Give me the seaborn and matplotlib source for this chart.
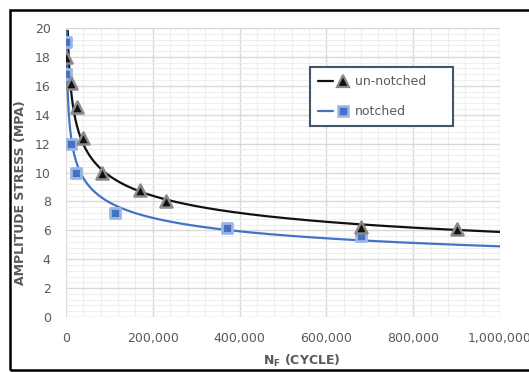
import numpy as np
import pandas as pd
import matplotlib
matplotlib.use("Agg")
import matplotlib.pyplot as plt
import seaborn as sns
from matplotlib.ticker import MultipleLocator, FuncFormatter
from matplotlib.lines import Line2D
from matplotlib.patches import Rectangle
from matplotlib.legend_handler import HandlerTuple

# Fatigue test results: cycles to failure vs. amplitude stress
unnotched_cycles = [500, 12000, 25000, 39000, 82000, 170000, 230000, 680000, 900000]
unnotched_stress = [18.0, 16.2, 14.5, 12.4, 10.0, 8.8, 8.0, 6.2, 6.1]
notched_cycles = [500, 500, 11000, 23000, 113000, 370000, 680000]
notched_stress = [19.0, 16.8, 12.0, 10.0, 7.2, 6.15, 5.6]

# Power-law trendlines  S = a * N^b
unnotched_trend = (123.0, -0.22)
notched_trend = (89.0, -0.21)

series_names = ["un-notched", "notched"]
x_ticks = [0, 200000, 400000, 600000, 800000, 1000000]
y_ticks = list(range(0, 21, 2))

BLACK = "#111111"
BLUE = "#4472C4"
TEXT = "#595959"
Y_MAX = 20

sns.set_theme(style="white")
plt.rcParams["font.family"] = ["DejaVu Sans"]

W, H = 529, 372
fig = plt.figure(figsize=(W / 100, H / 100), dpi=100)
ax = fig.add_axes([66 / W, 55 / H, 434 / W, 289 / H])

# trendlines, starting just inside the top of the plot area
for (a, b), color in [(unnotched_trend, BLACK), (notched_trend, BLUE)]:
    n_start = (0.99 * Y_MAX / a) ** (1 / b)
    n_fit = np.geomspace(n_start, 1_000_000, 600)
    trend = pd.DataFrame({"N": n_fit, "S": a * n_fit ** b})
    sns.lineplot(data=trend, x="N", y="S", color=color, lw=1.6, ax=ax,
                 estimator=None, sort=False, legend=False, zorder=3)

# measured points
un_df = pd.DataFrame({"N": unnotched_cycles, "S": unnotched_stress})
no_df = pd.DataFrame({"N": notched_cycles, "S": notched_stress})
sns.scatterplot(data=no_df, x="N", y="S", marker="s", s=50, color=BLUE,
                edgecolor="#9DB7E4", linewidth=2.0, ax=ax, zorder=4, legend=False)
sns.scatterplot(data=un_df, x="N", y="S", marker="^", s=75, color=BLACK,
                edgecolor="#8a8a8a", linewidth=1.8, ax=ax, zorder=5, legend=False)

ax.set_xlim(0, 1_000_000)
ax.set_ylim(0, Y_MAX)
ax.set_xticks(x_ticks)
ax.set_yticks(y_ticks)
ax.xaxis.set_minor_locator(MultipleLocator(40000))
ax.yaxis.set_minor_locator(MultipleLocator(0.4))
ax.xaxis.set_major_formatter(FuncFormatter(lambda v, p: f"{v:,.0f}"))
ax.grid(which="major", color="#D9D9D9", lw=1.0, zorder=0)
ax.grid(which="minor", color="#EEEEEE", lw=0.8, zorder=0)
ax.set_axisbelow(True)
for s in ax.spines.values():
    s.set_visible(False)
ax.tick_params(which="both", length=0, labelsize=9, labelcolor=TEXT, pad=11)
ax.set_xlabel("")
ax.set_ylabel("")

fig.text(21 / W, 1 - 193 / H, "AMPLITUDE STRESS (MPA)", rotation=90,
         ha="center", va="center", fontsize=9, fontweight="bold", color=TEXT)
fig.text(302 / W, 1 - 361 / H, r"N$_\mathregular{F}$ (CYCLE)",
         ha="center", va="center", fontsize=9, fontweight="bold", color=TEXT)

handles = [
    (Line2D([], [], color=BLACK, lw=1.6),
     Line2D([], [], ls="", marker="^", ms=8.5, mfc=BLACK, mec="#8a8a8a", mew=1.6)),
    (Line2D([], [], color=BLUE, lw=1.6),
     Line2D([], [], ls="", marker="s", ms=7, mfc=BLUE, mec="#9DB7E4", mew=1.8)),
]
leg = ax.legend(handles, series_names, handler_map={tuple: HandlerTuple(ndivide=None, pad=0.2)},
                loc="upper left", bbox_to_anchor=(0.562, 0.654, 0.330, 0.211),
                mode="expand", fontsize=9,
                frameon=True, fancybox=False, edgecolor="#44546A", framealpha=1,
                handlelength=2.6, handletextpad=0.35, labelspacing=1.35,
                borderpad=0.65, borderaxespad=0)
leg.get_frame().set_linewidth(1.5)
for t in leg.get_texts():
    t.set_color(TEXT)

# outer chart border; its right side runs past the figure edge
fig.add_artist(Rectangle((9.5 / W, 2 / H), 1 - 9.5 / W + 4 / W, 360.5 / H,
                         transform=fig.transFigure, fill=False,
                         edgecolor="#000000", lw=1.8, zorder=20, clip_on=False))

fig.savefig("out.png", dpi=100)
